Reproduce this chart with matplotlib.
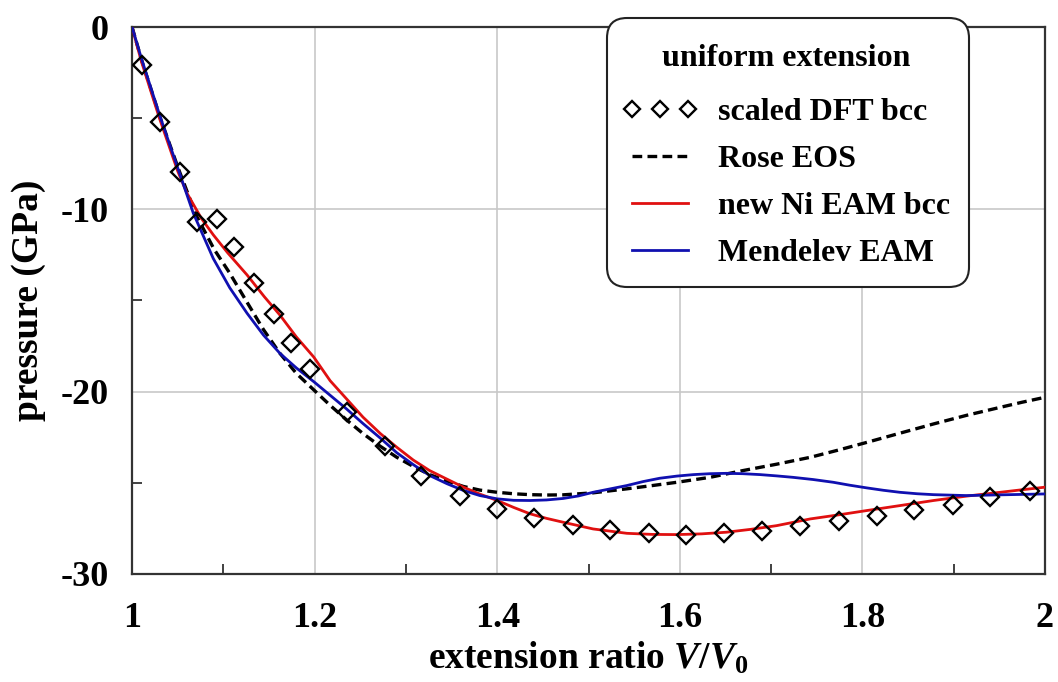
import matplotlib
matplotlib.use("Agg")
import matplotlib.pyplot as plt
from matplotlib.patches import FancyBboxPatch
from matplotlib.transforms import IdentityTransform
from matplotlib.ticker import MultipleLocator

# scaled DFT bcc points
dft_x = [1.011, 1.031, 1.052, 1.071, 1.093, 1.112, 1.134, 1.155, 1.174, 1.195,
         1.236, 1.277, 1.317, 1.359, 1.400, 1.440, 1.483, 1.524, 1.566, 1.607,
         1.648, 1.690, 1.732, 1.774, 1.816, 1.857, 1.899, 1.940, 1.984]
dft_p = [-2.07, -5.22, -7.96, -10.67, -10.52, -12.08, -14.05, -15.73, -17.35, -18.75,
         -21.10, -22.96, -24.60, -25.70, -26.43, -26.92, -27.33, -27.58, -27.75, -27.84,
         -27.77, -27.62, -27.38, -27.07, -26.80, -26.47, -26.19, -25.79, -25.43]

# new Ni EAM bcc
red_x = [1.0, 1.01, 1.03, 1.05, 1.06, 1.076, 1.089, 1.105, 1.126, 1.145, 1.162, 1.18,
         1.199, 1.217, 1.235, 1.253, 1.272, 1.29, 1.308, 1.326, 1.345, 1.363, 1.381,
         1.4, 1.418, 1.436, 1.454, 1.472, 1.505, 1.542, 1.57, 1.597, 1.624, 1.651,
         1.678, 1.706, 1.743, 1.775, 1.805, 1.841, 1.878, 1.914, 1.951, 1.975, 2.0]
red_p = [0.0, -1.85, -5.0, -7.9, -9.1, -10.5, -11.4, -12.4, -13.6, -14.8, -15.8, -17.0,
         -18.1, -19.4, -20.4, -21.4, -22.3, -23.05, -23.75, -24.33, -24.8, -25.24, -25.62,
         -25.97, -26.35, -26.7, -26.95, -27.16, -27.53, -27.77, -27.83, -27.84, -27.8, -27.71,
         -27.55, -27.35, -26.98, -26.75, -26.52, -26.25, -25.97, -25.73, -25.52, -25.38, -25.24]

# Mendelev EAM
blue_x = [1.0, 1.011, 1.031, 1.051, 1.067, 1.089, 1.107, 1.126, 1.144, 1.162, 1.18,
          1.199, 1.217, 1.235, 1.253, 1.272, 1.29, 1.308, 1.326, 1.345, 1.363, 1.381,
          1.4, 1.418, 1.436, 1.454, 1.472, 1.489, 1.505, 1.524, 1.542, 1.56, 1.578,
          1.597, 1.615, 1.633, 1.651, 1.669, 1.688, 1.706, 1.724, 1.746, 1.768, 1.786,
          1.805, 1.823, 1.841, 1.86, 1.878, 1.914, 1.951, 2.0]
blue_p = [0.0, -1.84, -4.95, -7.87, -10.2, -12.7, -14.3, -15.7, -16.9, -17.9, -18.7,
          -19.45, -20.2, -20.95, -21.75, -22.55, -23.35, -24.0, -24.6, -25.05, -25.42, -25.7,
          -25.88, -25.96, -25.97, -25.94, -25.86, -25.72, -25.52, -25.33, -25.15, -24.93, -24.75,
          -24.63, -24.55, -24.5, -24.48, -24.5, -24.55, -24.62, -24.7, -24.82, -24.97, -25.13,
          -25.28, -25.41, -25.52, -25.6, -25.65, -25.7, -25.66, -25.61]

# Rose EOS
rose_x = [1.0, 1.011, 1.031, 1.051, 1.07, 1.09, 1.107, 1.126, 1.144, 1.162, 1.18,
          1.199, 1.217, 1.235, 1.253, 1.272, 1.29, 1.308, 1.326, 1.345, 1.363, 1.381,
          1.4, 1.418, 1.436, 1.454, 1.472, 1.505, 1.542, 1.57, 1.597, 1.633, 1.669,
          1.706, 1.743, 1.774, 1.805, 1.841, 1.878, 1.914, 1.951, 1.975, 2.0]
rose_p = [0.0, -1.9, -5.0, -7.8, -10.3, -12.2, -13.5, -15.1, -16.6, -17.9, -19.0,
          -19.9, -20.75, -21.55, -22.3, -23.0, -23.6, -24.1, -24.55, -24.9, -25.2, -25.4,
          -25.52, -25.6, -25.65, -25.67, -25.66, -25.55, -25.33, -25.15, -24.97, -24.7, -24.33,
          -23.98, -23.6, -23.2, -22.78, -22.28, -21.77, -21.3, -20.86, -20.58, -20.31]

x_ticks = [1, 1.2, 1.4, 1.6, 1.8, 2]
x_ticklabels = ["1", "1.2", "1.4", "1.6", "1.8", "2"]
y_ticks = [0, -10, -20, -30]
y_ticklabels = ["0", "-10", "-20", "-30"]

plt.rcParams["font.family"] = "Liberation Serif"
plt.rcParams["font.weight"] = "bold"
plt.rcParams["axes.labelweight"] = "bold"
plt.rcParams["mathtext.fontset"] = "custom"
plt.rcParams["mathtext.rm"] = "Liberation Serif:bold"
plt.rcParams["mathtext.it"] = "Liberation Serif:bold:italic"
plt.rcParams["lines.scale_dashes"] = False

fig = plt.figure(figsize=(10.58, 6.82), dpi=100)
ax = fig.add_axes([0.1248, 0.1584, 0.8629, 0.8020])

ax.plot(rose_x, rose_p, color="black", lw=2.4, ls=(0, (7, 3.8)), label="Rose EOS", zorder=3)
ax.plot(red_x, red_p, color="#e01010", lw=2.0, label="new Ni EAM bcc", zorder=4)
ax.plot(blue_x, blue_p, color="#1010b0", lw=2.0, label="Mendelev EAM", zorder=5)
ax.plot(dft_x, dft_p, ls="none", marker="D", ms=9, mfc="none", mec="black", mew=1.7,
        label="scaled DFT bcc", zorder=6)

ax.set_xlim(1, 2)
ax.set_ylim(-30, 0)
ax.set_xticks(x_ticks)
ax.set_xticklabels(x_ticklabels)
ax.set_yticks(y_ticks)
ax.set_yticklabels(y_ticklabels)
ax.xaxis.set_minor_locator(MultipleLocator(0.1))
ax.yaxis.set_minor_locator(MultipleLocator(5))
ax.tick_params(which="major", length=0, labelsize=26)
ax.tick_params(axis="x", which="major", pad=20)
ax.tick_params(axis="y", which="major", pad=17)
ax.tick_params(which="minor", direction="in", length=7, width=1.3, color="#333333")
ax.grid(True, which="major", color="#c8c8c8", lw=1.2)
ax.set_axisbelow(True)
for s in ax.spines.values():
    s.set_color("#333333")
    s.set_linewidth(1.6)

ax.set_xlabel("extension ratio $V/V_0$", fontsize=27, labelpad=4)
ax.set_ylabel("pressure (GPa)", fontsize=27, labelpad=10)

# rounded legend box (pixels, origin bottom-left)
box = FancyBboxPatch((607, 395), 362, 269, boxstyle="round,pad=0,rounding_size=20",
                     transform=IdentityTransform(), facecolor="white",
                     edgecolor="#222222", lw=1.5, zorder=9)
fig.patches.append(box)

handles, labels = ax.get_legend_handles_labels()
order = [3, 0, 1, 2]
leg = ax.legend([handles[i] for i in order], [labels[i] for i in order],
                title="uniform extension", loc="upper left",
                bbox_to_anchor=(0.5197, 0.998), borderaxespad=0,
                fontsize=23, title_fontsize=23, numpoints=3, markerscale=0.85,
                handlelength=2.35, handletextpad=0.63, labelspacing=0.55,
                borderpad=0.5, frameon=False)
leg.get_title().set_fontweight("bold")
leg._legend_box.sep = 18
leg.set_zorder(10)
fig.legends.append(leg)
ax.get_legend().remove()

fig.savefig("out.png", dpi=100)
